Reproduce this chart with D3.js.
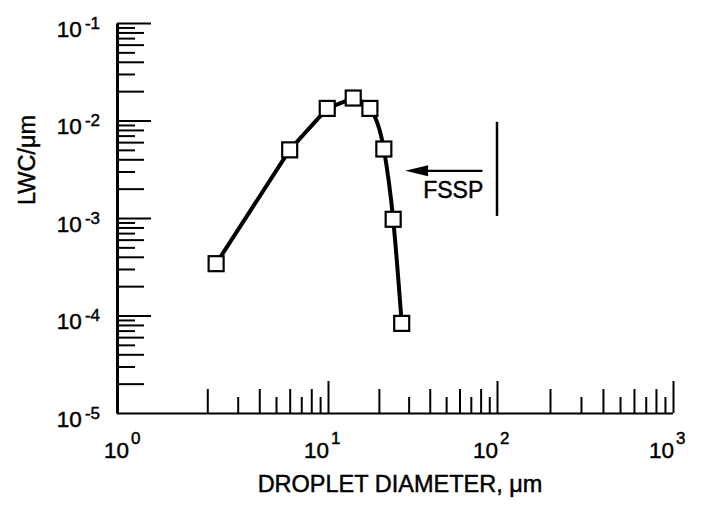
<!DOCTYPE html>
<html><head><meta charset="utf-8">
<script src="https://cdn.jsdelivr.net/npm/d3@7"></script>
<style>
body{margin:0;background:#fff}
svg{display:block;font-family:"Liberation Sans",Arial,Helvetica,sans-serif}
svg text{stroke:#000;stroke-width:0.45px}
</style></head><body>
<svg id="c" width="701" height="507"></svg>
<script>
// ---- data ----
const diameter = [2.25, 6.0, 9.9, 14.1, 17.7, 21.4, 24.3, 27.3];          // µm
const lwc      = [3.4e-4, 5.0e-3, 1.33e-2, 1.7e-2, 1.33e-2, 5.1e-3, 9.7e-4, 8.3e-5];
const peakIndex = 3;
const xTickExponents = [0, 1, 2, 3];
const yTickExponents = [-1, -2, -3, -4, -5];
const minorMultipliers = [2, 3, 4, 5, 6, 7, 8, 9];
const xTitle = "DROPLET DIAMETER, \u03bcm";
const yTitle = "LWC/\u03bcm";
const annotationLabel = "FSSP";
const fsspArrow = {from: 82, to: 28.6, lwc: 3.05e-3};
const fsspLimit = {diameter: 100, lwcLow: 1.05e-3, lwcHigh: 9.7e-3};
const fsspLabelAt = {diameter: 36.6, lwc: 1.6e-3};

// ---- scales ----
const svg = d3.select("#c");
const x = d3.scaleLog().domain([0.6, 10, 100, 1000]).range([117, 328, 497, 673]);
const y = d3.scaleLog().domain([1e-5, 1e-1]).range([413, 23]);
const x0 = x(0.6), yBottom = y(1e-5);

const xMajor = xTickExponents.filter(e => e > 0).map(e => Math.pow(10, e));
const xEven = [], xOdd = [];
[0, 1, 2].forEach(e => minorMultipliers.forEach(m => (m % 2 ? xOdd : xEven).push(m * Math.pow(10, e))));
const yMajor = yTickExponents.filter(e => e > -5).map(e => Math.pow(10, e));
const yEven = [], yOdd = [];
[-5, -4, -3, -2].forEach(e => minorMultipliers.forEach(m => (m % 2 ? yOdd : yEven).push(m * Math.pow(10, e))));

function styleAxis(g, keepDomain, w) {
  g.selectAll("text").remove();
  if (!keepDomain) g.select(".domain").remove();
  g.select(".domain").attr("stroke", "#000").attr("stroke-width", w);
  g.selectAll(".tick line").attr("stroke", "#000").attr("stroke-width", 2);
}

// x axis (ticks pointing up, inside)
const gx = svg.append("g").attr("transform", `translate(0,${yBottom})`);
gx.append("g").call(d3.axisBottom(x).tickValues(xMajor).tickSize(-32).tickSizeOuter(0).tickFormat(""))
  .call(g => styleAxis(g, true, 2.2));
gx.append("g").call(d3.axisBottom(x).tickValues(xEven).tickSize(-24).tickSizeOuter(0).tickFormat(""))
  .call(g => styleAxis(g, false));
gx.append("g").call(d3.axisBottom(x).tickValues(xOdd).tickSize(-16).tickSizeOuter(0).tickFormat(""))
  .call(g => styleAxis(g, false));
gx.select(".domain").attr("d", `M${x0},0.5H${x(1000)}`);

// y axis (ticks pointing right, inside)
const gy = svg.append("g").attr("transform", `translate(${x0},0)`);
gy.append("g").call(d3.axisRight(y).tickValues(yMajor).tickSize(34).tickSizeOuter(0).tickFormat(""))
  .call(g => styleAxis(g, true, 3));
gy.append("g").call(d3.axisRight(y).tickValues(yEven).tickSize(27).tickSizeOuter(0).tickFormat(""))
  .call(g => styleAxis(g, false));
gy.append("g").call(d3.axisRight(y).tickValues(yOdd).tickSize(18).tickSizeOuter(0).tickFormat(""))
  .call(g => styleAxis(g, false));

// tick labels
yTickExponents.forEach(e => {
  const t = svg.append("text").attr("x", 100).attr("y", y(Math.pow(10, e)) + 13.5)
    .attr("text-anchor", "end").attr("font-size", 22.5).attr("fill", "#000");
  t.append("tspan").text("10");
  t.append("tspan").attr("dx", 3).attr("dy", -8).attr("font-size", 17).text(String(e));
});
xTickExponents.forEach(e => {
  // the 10^0 label sits at the axis corner in the original figure
  const xa = e === 0 ? x0 + 11 : x(Math.pow(10, e));
  svg.append("text").attr("x", xa + 1).attr("y", 457.5).attr("text-anchor", "end")
    .attr("font-size", 22.5).attr("fill", "#000").text("10");
  svg.append("text").attr("x", xa + 3).attr("y", 444).attr("text-anchor", "start")
    .attr("font-size", 17).attr("fill", "#000").text(String(e));
});

// titles
svg.append("text").attr("x", 400).attr("y", 491.5).attr("text-anchor", "middle")
  .attr("font-size", 23.5).attr("fill", "#000").text(xTitle);
svg.append("text").attr("transform", "translate(35,160) rotate(-90)").attr("text-anchor", "middle")
  .attr("font-size", 23.5).attr("fill", "#000").text(yTitle);

// data line
const pts = diameter.map((d, i) => [d, lwc[i]]);
const rising = d3.line().x(d => x(d[0])).y(d => y(d[1]));
const falling = d3.line().x(d => x(d[0])).y(d => y(d[1])).curve(d3.curveMonotoneX);
svg.append("path").attr("d", rising(pts.slice(0, peakIndex + 1)))
  .attr("fill", "none").attr("stroke", "#000").attr("stroke-width", 4).attr("stroke-linejoin", "round");
svg.append("path").attr("d", falling(pts.slice(peakIndex)))
  .attr("fill", "none").attr("stroke", "#000").attr("stroke-width", 4).attr("stroke-linejoin", "round");

// markers
svg.selectAll("rect.pt").data(pts).join("rect").attr("class", "pt")
  .attr("x", d => x(d[0]) - 7.5).attr("y", d => y(d[1]) - 7.5)
  .attr("width", 15).attr("height", 15)
  .attr("fill", "#fff").attr("stroke", "#000").attr("stroke-width", 2.2);

// FSSP annotation
const ay = y(fsspArrow.lwc), tipX = x(fsspArrow.to);
svg.append("line").attr("x1", x(fsspArrow.from)).attr("x2", tipX + 18).attr("y1", ay).attr("y2", ay)
  .attr("stroke", "#000").attr("stroke-width", 2.2);
svg.append("path").attr("d", `M${tipX},${ay}L${tipX + 23},${ay - 5.5}L${tipX + 23},${ay + 5.5}Z`).attr("fill", "#000");
svg.append("text").attr("x", x(fsspLabelAt.diameter)).attr("y", y(fsspLabelAt.lwc))
  .attr("font-size", 23).attr("fill", "#000").text(annotationLabel);
svg.append("line").attr("x1", x(fsspLimit.diameter)).attr("x2", x(fsspLimit.diameter))
  .attr("y1", y(fsspLimit.lwcLow)).attr("y2", y(fsspLimit.lwcHigh))
  .attr("stroke", "#000").attr("stroke-width", 2.5);
</script>
</body></html>
